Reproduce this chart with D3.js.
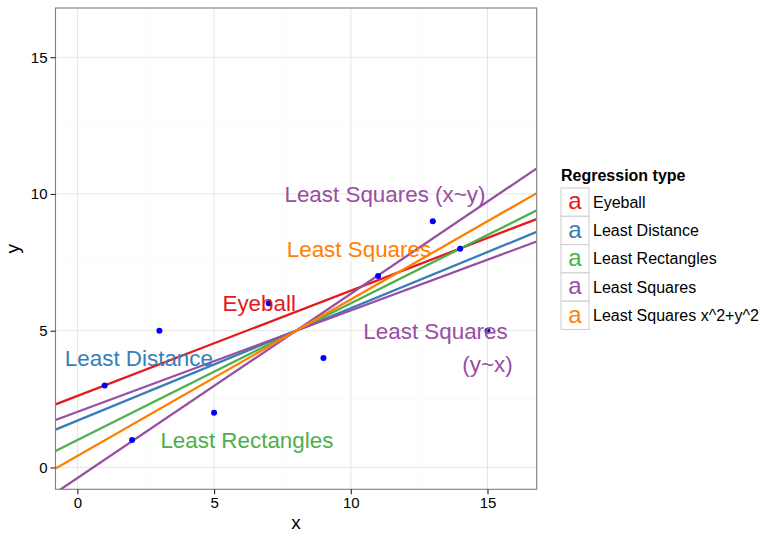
<!DOCTYPE html>
<html>
<head>
<meta charset="utf-8">
<script src="https://d3js.org/d3.v7.min.js"></script>
<style>
  body { margin: 0; background: #fff; }
  svg { font-family: "Liberation Sans", Arial, Helvetica, sans-serif; }
</style>
</head>
<body>
<svg id="chart" width="763" height="534"></svg>
<script>
// regression types (legend order) and their colours
const types = ['Eyeball', 'Least Distance', 'Least Rectangles', 'Least Squares', 'Least Squares x^2+y^2']
const colors = ['#E41A1C', '#377EB8', '#4DAF4A', '#984EA3', '#FF7F00']

// observed points
const xs = [1, 2, 3, 5, 7, 9, 11, 13, 14, 15]
const ys = [3, 1, 5, 2, 6, 4, 7, 9, 8, 5]

// fitted lines: y = intercept + slope * x
const lineType = ['Eyeball', 'Least Distance', 'Least Rectangles', 'Least Squares', 'Least Squares', 'Least Squares x^2+y^2']
const intercepts = [2.615, 1.71, 1.0, 2.03, -0.39, 0.42]
const slopes = [0.385, 0.411, 0.5, 0.371, 0.674, 0.572]

// text labels inside the panel
const labelText = ['Least Squares (x~y)', 'Least Squares', 'Eyeball', 'Least Squares', '(y~x)', 'Least Distance', 'Least Rectangles']
const labelType = ['Least Squares', 'Least Squares x^2+y^2', 'Eyeball', 'Least Squares', 'Least Squares', 'Least Distance', 'Least Rectangles']
const labelX = [11.25, 10.3, 6.65, 13.1, 15.0, 2.25, 6.2]
const labelY = [10, 8, 6, 5, 3.77, 4, 1]

const ticks = [0, 5, 10, 15]
const minorTicks = [2.5, 7.5, 12.5]

function main() {
    let svg = d3.select('#chart'),
        panel = {left: 55.5, top: 8, right: 536.7, bottom: 489.3}

    let x = d3.scaleLinear().domain([-0.8, 16.8]).range([panel.left, panel.right]),
        y = d3.scaleLinear().domain([-0.8, 16.8]).range([panel.bottom, panel.top]),
        z = d3.scaleOrdinal().domain(types).range(colors)

    svg.append('defs').append('clipPath').attr('id', 'clip')
        .append('rect')
        .attr('x', panel.left).attr('y', panel.top)
        .attr('width', panel.right - panel.left).attr('height', panel.bottom - panel.top)

    // grid
    let grid = svg.append('g')
    grid.selectAll('.minx').data(minorTicks).enter().append('line')
        .attr('x1', d => x(d)).attr('x2', d => x(d))
        .attr('y1', panel.top).attr('y2', panel.bottom)
        .attr('stroke', '#FAFAFA').attr('stroke-width', 1)
    grid.selectAll('.miny').data(minorTicks).enter().append('line')
        .attr('y1', d => y(d)).attr('y2', d => y(d))
        .attr('x1', panel.left).attr('x2', panel.right)
        .attr('stroke', '#FAFAFA').attr('stroke-width', 1)
    grid.selectAll('.majx').data(ticks).enter().append('line')
        .attr('x1', d => x(d)).attr('x2', d => x(d))
        .attr('y1', panel.top).attr('y2', panel.bottom)
        .attr('stroke', '#E5E5E5').attr('stroke-width', 1)
    grid.selectAll('.majy').data(ticks).enter().append('line')
        .attr('y1', d => y(d)).attr('y2', d => y(d))
        .attr('x1', panel.left).attr('x2', panel.right)
        .attr('stroke', '#E5E5E5').attr('stroke-width', 1)

    // regression lines
    let lines = lineType.map((t, i) => ({type: t, a: intercepts[i], b: slopes[i]}))
    let line = d3.line().x(d => x(d[0])).y(d => y(d[1]))
    svg.append('g').attr('clip-path', 'url(#clip)')
        .selectAll('path').data(lines).enter().append('path')
        .attr('d', d => line(x.domain().map(v => [v, d.a + d.b * v])))
        .attr('fill', 'none')
        .attr('stroke', d => z(d.type))
        .attr('stroke-width', 2.3)

    // points
    svg.append('g').selectAll('circle').data(xs).enter().append('circle')
        .attr('cx', d => x(d))
        .attr('cy', (d, i) => y(ys[i]))
        .attr('r', 3)
        .attr('fill', '#0000FF')

    // labels
    svg.append('g').selectAll('text').data(labelText).enter().append('text')
        .attr('x', (d, i) => x(labelX[i]))
        .attr('y', (d, i) => y(labelY[i]))
        .attr('text-anchor', 'middle')
        .attr('dy', '0.36em')
        .attr('font-size', 22.4)
        .attr('fill', (d, i) => z(labelType[i]))
        .text(d => d)

    // panel border
    svg.append('rect')
        .attr('x', panel.left).attr('y', panel.top)
        .attr('width', panel.right - panel.left).attr('height', panel.bottom - panel.top)
        .attr('fill', 'none').attr('stroke', '#7F7F7F').attr('stroke-width', 1.1)

    // axes
    let xAxis = svg.append('g')
        .attr('transform', 'translate(0,' + panel.bottom + ')')
        .call(d3.axisBottom(x).tickValues(ticks).tickSize(5).tickPadding(3).tickSizeOuter(0))
    let yAxis = svg.append('g')
        .attr('transform', 'translate(' + panel.left + ',0)')
        .call(d3.axisLeft(y).tickValues(ticks).tickSize(5).tickPadding(3).tickSizeOuter(0))
    ;[xAxis, yAxis].forEach(a => {
        a.select('.domain').remove()
        a.selectAll('.tick line').attr('stroke', '#222').attr('stroke-width', 1.1)
        a.selectAll('.tick text').attr('font-size', 15).attr('fill', '#000')
            .attr('font-family', '"Liberation Sans", Arial, sans-serif')
    })

    svg.append('text')
        .attr('x', (panel.left + panel.right) / 2).attr('y', 529)
        .attr('text-anchor', 'middle').attr('font-size', 19)
        .text('x')
    svg.append('text')
        .attr('transform', 'translate(18.5,' + (panel.top + panel.bottom) / 2 + ') rotate(-90)')
        .attr('text-anchor', 'middle').attr('font-size', 19)
        .text('y')

    // legend
    let legend = svg.append('g').attr('transform', 'translate(561,0)')
    legend.append('text')
        .attr('x', 0).attr('y', 181)
        .attr('font-size', 16).attr('font-weight', 'bold')
        .text('Regression type')
    let keyH = 28.3, keyTop = 188
    let cell = legend.selectAll('.cell').data(types).enter().append('g')
        .attr('transform', (d, i) => 'translate(0,' + (keyTop + i * keyH) + ')')
    cell.append('rect')
        .attr('width', 28).attr('height', keyH)
        .attr('fill', '#fff').attr('stroke', '#D0D0D0').attr('stroke-width', 1.1)
    cell.append('text')
        .attr('x', 14).attr('y', keyH / 2).attr('dy', '0.3em')
        .attr('text-anchor', 'middle').attr('font-size', 24)
        .attr('fill', d => z(d))
        .text('a')
    cell.append('text')
        .attr('x', 32).attr('y', keyH / 2).attr('dy', '0.35em')
        .attr('font-size', 16)
        .text(d => d)
}

main()
</script>
</body>
</html>
